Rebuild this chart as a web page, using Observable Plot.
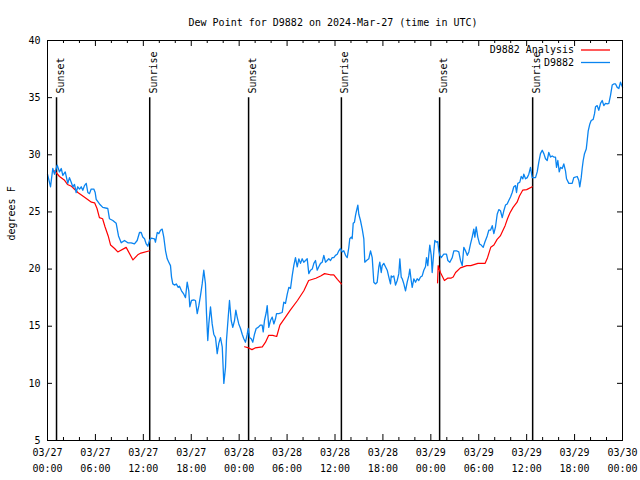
<!DOCTYPE html>
<html><head><meta charset="utf-8">
<script src="https://cdn.jsdelivr.net/npm/d3@7"></script>
<script src="https://cdn.jsdelivr.net/npm/@observablehq/plot@0.6"></script>
<style>html,body{margin:0;padding:0;background:#fff}svg{display:block}</style>
</head><body><div id="chart"></div>
<script>
const chartTitle = "Dew Point for D9882 on 2024-Mar-27 (time in UTC)";
const yAxisLabel = "degrees F";
const startTime = Date.UTC(2024, 2, 27, 0, 0);
const seriesNames = ["D9882 Analysis", "D9882"];
const seriesColors = ["#ff0000", "#0a84f0"];

// D9882 observations: hours since 03/27 00:00 UTC, dew point (F)
const blueHours = [0.00,0.38,0.66,0.88,1.21,1.50,1.72,1.92,2.22,2.54,2.75,2.97,3.17,3.38,3.59,3.79,4.01,4.22,4.42,4.63,4.85,5.05,5.26,5.47,5.80,5.97,6.10,6.51,6.92,7.55,7.76,8.18,8.60,8.89,9.23,9.64,10.06,10.48,10.89,11.23,11.52,11.73,11.93,12.15,12.36,12.56,12.77,12.99,13.40,13.52,13.74,13.94,14.15,14.36,14.56,14.78,14.99,15.19,15.40,15.53,15.69,15.94,16.12,16.37,16.53,16.78,17.07,17.28,17.49,17.69,17.82,18.03,18.32,18.53,18.75,18.95,19.16,19.37,19.57,19.78,19.91,20.07,20.20,20.41,20.62,20.82,21.04,21.25,21.45,21.66,21.88,22.08,22.29,22.41,22.63,22.79,23.00,23.20,23.42,23.58,23.75,23.95,24.17,24.38,24.58,24.79,25.01,25.13,25.30,25.51,25.71,25.92,26.13,26.38,26.67,26.88,27.01,27.17,27.39,27.51,27.71,27.92,28.14,28.34,28.55,28.68,28.96,29.39,29.59,29.80,30.02,30.22,30.43,30.64,30.84,31.05,31.27,31.47,31.68,31.89,32.09,32.31,32.52,32.72,32.93,33.15,33.35,33.56,33.77,33.97,34.19,34.40,34.60,34.81,35.02,35.22,35.44,35.65,35.85,36.06,36.28,36.48,36.69,36.90,37.10,37.32,37.53,37.73,37.85,38.03,38.15,38.28,38.44,38.57,38.69,38.86,38.98,39.19,39.41,39.61,39.73,39.95,40.23,40.45,40.66,40.86,41.07,41.28,41.49,41.61,41.79,41.91,42.11,42.32,42.54,42.74,42.95,43.04,43.16,43.36,43.58,43.79,43.99,44.12,44.29,44.42,44.62,44.83,45.04,45.24,45.37,45.54,45.67,45.87,46.08,46.29,46.49,46.71,46.92,47.12,47.33,47.46,47.62,47.75,47.87,48.05,48.17,48.37,48.50,48.71,48.87,49.00,49.12,49.30,49.62,49.96,50.13,50.38,50.68,50.88,51.21,51.50,51.72,51.93,52.13,52.34,52.56,52.76,52.97,53.18,53.38,53.51,53.68,53.88,54.10,54.31,54.56,54.76,55.06,55.26,55.47,55.69,55.89,56.10,56.31,56.51,56.72,56.94,57.14,57.35,57.56,57.76,57.98,58.19,58.39,58.60,58.73,58.89,59.14,59.32,59.52,59.64,59.86,60.07,60.27,60.48,60.69,61.11,61.32,61.52,61.73,61.95,62.15,62.36,62.57,62.77,62.99,63.20,63.40,63.61,63.74,63.90,64.08,64.24,64.45,64.65,64.86,64.99,65.28,65.70,65.90,66.33,66.53,66.65,66.83,66.95,67.08,67.24,67.46,67.58,67.71,67.91,68.08,68.33,68.50,68.62,68.83,69.03,69.25,69.46,69.66,69.87,70.09,70.29,70.50,70.71,70.91,71.13,71.34,71.54,71.75,72.00];
const blueValues = [28.3,27.2,28.8,28.3,29.1,28.5,28.8,28.2,28.5,27.5,28.0,27.6,27.2,27.4,26.7,27.2,27.0,27.2,26.9,27.3,27.5,26.7,26.6,27.0,27.0,26.7,26.1,25.7,25.4,25.3,24.4,24.25,24.0,22.9,22.3,22.5,22.3,22.3,22.2,22.5,23.2,23.2,22.8,22.65,22.2,22.0,22.5,22.7,22.65,22.35,23.2,23.1,23.4,23.5,22.8,21.6,20.9,20.6,20.3,19.3,18.7,18.6,18.7,18.4,18.5,18.1,17.8,17.5,18.85,18.1,16.7,17.25,17.3,17.25,16.1,16.8,17.7,18.7,19.9,18.7,16.1,13.75,15.2,16.7,15.2,14.3,14.0,12.6,13.5,14.0,13.2,10.0,11.4,13.75,15.8,17.25,15.5,14.9,15.5,16.4,15.8,15.2,14.8,14.3,13.9,13.6,14.3,14.8,14.0,13.9,13.6,14.3,14.8,14.9,15.1,15.1,14.5,15.5,16.2,16.8,14.9,15.5,15.8,15.2,15.65,16.1,16.1,16.2,17.1,17.0,17.8,18.4,18.3,19.4,20.3,21.0,20.2,20.9,20.5,20.9,20.6,20.75,20.9,19.6,19.9,20.0,20.5,20.75,19.9,20.2,20.5,20.6,21.2,20.6,20.75,20.9,20.75,21.0,21.0,21.2,21.3,21.6,21.8,21.5,21.6,21.2,21.0,21.9,22.65,22.8,22.65,24.0,24.1,24.7,25.1,25.6,24.8,24.25,23.5,22.65,20.6,20.75,20.9,21.6,21.0,18.85,18.7,18.85,20.2,20.6,19.7,20.3,20.5,20.2,19.9,19.3,18.7,19.4,19.3,19.4,18.6,19.0,19.6,20.9,19.3,19.15,18.7,18.1,18.85,19.4,20.0,19.0,18.4,19.15,18.85,19.15,19.0,19.3,19.4,19.9,20.2,21.0,20.3,21.3,22.1,21.2,19.7,21.5,22.5,22.35,22.4,21.6,21.2,21.0,21.3,21.3,20.75,20.6,21.0,21.6,21.6,21.5,20.75,20.3,21.9,21.6,21.2,21.5,22.2,22.8,23.5,22.8,23.7,22.8,22.2,22.1,21.9,22.35,22.9,23.4,23.4,23.8,23.1,23.7,24.8,25.2,25.1,24.5,25.1,25.6,25.7,26.0,26.3,26.7,27.2,27.3,26.7,27.5,27.6,28.1,27.9,28.3,27.9,28.0,28.3,28.9,28.0,28.0,28.5,29.35,30.1,30.4,30.1,29.65,29.5,30.2,29.8,29.9,29.8,29.8,28.9,29.5,28.5,28.9,28.8,29.2,28.6,27.9,27.5,27.5,28.0,28.1,27.75,27.2,28.0,28.8,29.5,30.1,30.5,31.25,32.1,32.7,33.0,33.1,33.6,34.2,34.3,33.9,34.5,34.75,34.3,34.5,34.45,34.5,35.2,36.1,36.2,36.2,35.9,35.8,36.35,35.9];

// D9882 Analysis (null = gap)
const redHours = [0.9,1.5,2.1,2.5,3.0,3.8,4.6,5.5,5.9,6.2,6.5,6.9,7.2,7.6,7.9,8.4,8.8,9.85,10.7,11.3,11.7,12.8,null,
  24.67,25.2,25.6,26.0,26.9,27.3,27.7,28.2,28.7,29.1,29.8,30.4,31.3,32.1,32.7,33.6,34.2,34.7,35.4,35.85,36.3,36.8,null,
  48.84,48.92,49.2,49.7,50.1,50.5,50.8,51.1,51.7,52.5,53.0,53.9,54.8,55.1,55.5,55.9,56.3,56.7,57.3,57.6,57.9,58.3,58.8,59.1,59.5,60.0,60.7];
const redValues = [28.6,28.1,27.8,27.4,27.25,26.7,26.3,25.85,25.8,25.3,24.5,24.4,23.7,22.9,22.1,21.8,21.5,21.9,20.8,21.25,21.4,21.6,null,
  13.2,13.1,12.95,13.1,13.2,13.6,14.2,14.2,14.1,15.1,15.8,16.4,17.25,18.1,19.0,19.2,19.4,19.6,19.5,19.5,19.1,18.7,null,
  18.8,20.3,19.7,19.0,19.2,19.2,19.3,19.7,20.1,20.3,20.3,20.5,20.5,21.0,21.9,22.1,22.6,22.9,23.8,24.4,24.9,25.4,25.85,26.4,26.9,26.95,27.2];

const sunHours = [1.13, 12.8, 25.18, 36.8, 49.1, 60.75];
const sunLabels = ["Sunset", "Sunrise", "Sunset", "Sunrise", "Sunset", "Sunrise"];

const xTickHours = [0, 6, 12, 18, 24, 30, 36, 42, 48, 54, 60, 66, 72];
const xMinorHours = [2, 4, 8, 10, 14, 16, 20, 22, 26, 28, 32, 34, 38, 40, 44, 46, 50, 52, 56, 58, 62, 64, 68, 70];
const yTicks = [5, 10, 15, 20, 25, 30, 35, 40];
const yDomain = [5, 40];

const toDate = h => h == null ? null : new Date(startTime + h * 3600000);
const blue = blueHours.map((h, i) => ({t: toDate(h), v: blueValues[i]}));
const red = redHours.map((h, i) => ({t: toDate(h), v: redValues[i]}));
const sun = sunHours.map((h, i) => ({t: toDate(h), label: sunLabels[i]}));
const xTicks = xTickHours.map(toDate);
const xMinor = xMinorHours.map(toDate);
const fmtDate = d3.utcFormat("%m/%d");
const fmtTime = d3.utcFormat("%H:%M");

const W = 640, H = 480, mL = 47, mR = 18, mT = 40, mB = 40;
const fw = W - mL - mR, fh = H - mT - mB;
const font = "'DejaVu Sans Mono', 'Liberation Mono', monospace";

const chart = Plot.plot({
  width: W, height: H,
  marginLeft: mL, marginRight: mR, marginTop: mT, marginBottom: mB,
  style: {fontFamily: font, fontSize: "10px", background: "#fff", color: "#000", overflow: "visible"},
  x: {type: "utc", domain: [toDate(0), toDate(72)], axis: null},
  y: {domain: yDomain, axis: null},
  marks: [
    Plot.ruleX(sun, {x: "t", y1: 5, y2: 35, stroke: "#000", strokeWidth: 1.5}),
    Plot.text(sun, {x: "t", text: "label", frameAnchor: "top", dy: 53, rotate: -90, textAnchor: "start", fill: "#000"}),
    Plot.line(red, {x: "t", y: "v", stroke: seriesColors[0], strokeWidth: 1.2}),
    Plot.line(blue, {x: "t", y: "v", stroke: seriesColors[1], strokeWidth: 1.3}),
    Plot.frame({stroke: "#000"}),
    Plot.ruleX(xTicks, {insetTop: fh - 6, stroke: "#000"}),
    Plot.ruleX(xTicks, {insetBottom: fh - 6, stroke: "#000"}),
    Plot.ruleX(xMinor, {insetTop: fh - 3, stroke: "#000"}),
    Plot.ruleX(xMinor, {insetBottom: fh - 3, stroke: "#000"}),
    Plot.ruleY(yTicks, {insetRight: fw - 5, stroke: "#000"}),
    Plot.ruleY(yTicks, {insetLeft: fw - 5, stroke: "#000"}),
    Plot.text(yTicks, {y: d => d, text: d => String(d), frameAnchor: "left", dx: -7, textAnchor: "end", fill: "#000"}),
    Plot.text(xTicks, {x: d => d, text: d => fmtDate(d), frameAnchor: "bottom", dy: 15, fill: "#000"}),
    Plot.text(xTicks, {x: d => d, text: d => fmtTime(d), frameAnchor: "bottom", dy: 31, fill: "#000"}),
    Plot.text([yAxisLabel], {text: d => d, frameAnchor: "left", dx: -36, rotate: -90, fill: "#000"}),
    Plot.text([chartTitle], {text: d => d, frameAnchor: "top", dy: -22, dx: -2, fill: "#000"})
  ]
});

// legend (top right, inside frame)
const svg = d3.select(chart);
const lg = svg.append("g").attr("font-family", font).attr("font-size", 10);
seriesNames.forEach((name, i) => {
  const y = mT + 10 + i * 12.5;
  lg.append("text").attr("x", W - mR - 48).attr("y", y).attr("dy", "0.32em")
    .attr("text-anchor", "end").attr("fill", "#000").text(name);
  lg.append("line").attr("x1", W - mR - 41).attr("x2", W - mR - 12)
    .attr("y1", y).attr("y2", y).attr("stroke", seriesColors[i]).attr("stroke-width", 1.3);
});

document.getElementById("chart").appendChild(chart);
</script>
</body></html>
